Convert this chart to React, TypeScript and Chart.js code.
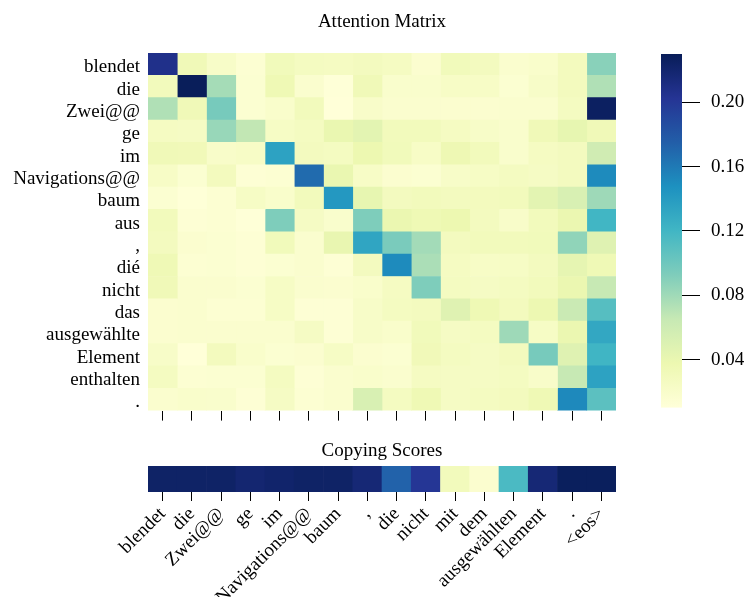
import React, { useEffect, useRef } from "react";
import { Chart, registerables } from "chart.js";

Chart.register(...registerables);

// ---------- data ----------
const rowLabels = [
  "blendet", "die", "Zwei@@", "ge", "im", "Navigations@@", "baum", "aus",
  ",", "dié", "nicht", "das", "ausgewählte", "Element", "enthalten", ".",
];

const colLabels = [
  "blendet", "die", "Zwei@@", "ge", "im", "Navigations@@", "baum", ",",
  "die", "nicht", "mit", "dem", "ausgewählten", "Element", ".", "<eos>",
];

// attention weights: one row per source token, one value per target column
const attention: number[][] = [
  [0.207, 0.033, 0.022, 0.015, 0.031, 0.027, 0.026, 0.028, 0.026, 0.017, 0.031, 0.028, 0.018, 0.020, 0.029, 0.089],
  [0.030, 0.229, 0.078, 0.016, 0.035, 0.018, 0.012, 0.033, 0.019, 0.019, 0.023, 0.023, 0.016, 0.022, 0.029, 0.074],
  [0.074, 0.033, 0.096, 0.016, 0.020, 0.030, 0.011, 0.021, 0.018, 0.018, 0.017, 0.017, 0.018, 0.018, 0.027, 0.226],
  [0.026, 0.025, 0.083, 0.067, 0.024, 0.027, 0.040, 0.045, 0.030, 0.030, 0.026, 0.022, 0.019, 0.033, 0.042, 0.033],
  [0.033, 0.032, 0.021, 0.023, 0.135, 0.028, 0.027, 0.038, 0.031, 0.023, 0.036, 0.030, 0.019, 0.026, 0.028, 0.059],
  [0.023, 0.016, 0.029, 0.014, 0.015, 0.168, 0.040, 0.023, 0.017, 0.016, 0.022, 0.024, 0.027, 0.025, 0.028, 0.151],
  [0.016, 0.012, 0.015, 0.024, 0.020, 0.030, 0.142, 0.042, 0.028, 0.030, 0.028, 0.029, 0.030, 0.045, 0.053, 0.081],
  [0.030, 0.014, 0.015, 0.012, 0.093, 0.025, 0.019, 0.093, 0.039, 0.035, 0.038, 0.028, 0.021, 0.030, 0.039, 0.120],
  [0.028, 0.017, 0.016, 0.014, 0.031, 0.018, 0.041, 0.133, 0.095, 0.079, 0.028, 0.030, 0.030, 0.031, 0.086, 0.048],
  [0.034, 0.015, 0.016, 0.014, 0.016, 0.018, 0.014, 0.028, 0.151, 0.076, 0.026, 0.023, 0.024, 0.028, 0.043, 0.034],
  [0.033, 0.018, 0.018, 0.016, 0.024, 0.018, 0.017, 0.020, 0.026, 0.093, 0.027, 0.025, 0.027, 0.030, 0.039, 0.065],
  [0.017, 0.018, 0.015, 0.015, 0.024, 0.014, 0.014, 0.022, 0.027, 0.028, 0.048, 0.035, 0.029, 0.037, 0.063, 0.111],
  [0.017, 0.018, 0.018, 0.018, 0.018, 0.025, 0.014, 0.022, 0.020, 0.031, 0.025, 0.027, 0.081, 0.024, 0.039, 0.131],
  [0.022, 0.011, 0.029, 0.020, 0.016, 0.017, 0.024, 0.017, 0.016, 0.032, 0.027, 0.025, 0.029, 0.096, 0.048, 0.121],
  [0.027, 0.015, 0.016, 0.016, 0.027, 0.014, 0.018, 0.020, 0.018, 0.026, 0.025, 0.025, 0.027, 0.021, 0.065, 0.135],
  [0.018, 0.020, 0.019, 0.014, 0.025, 0.015, 0.018, 0.053, 0.027, 0.035, 0.025, 0.027, 0.029, 0.035, 0.152, 0.108],
];

const copyingScores = [0.97, 0.97, 0.97, 0.95, 0.96, 0.97, 0.97, 0.94, 0.74, 0.87, 0.09, 0.03, 0.48, 0.94, 0.99, 0.99];

const colorbarTicks = [0.04, 0.08, 0.12, 0.16, 0.2];
const ATT_MIN = 0.0103;
const ATT_MAX = 0.2299;
const COPY_MIN = 0;
const COPY_MAX = 1;

// ---------- style ----------
const FONT = "'Liberation Serif', 'Times New Roman', serif";
const FONT_SIZE = 19;
const TEXT = "#000";

const YLGNBU: number[][] = [
  [255, 255, 217], [237, 248, 177], [199, 233, 180], [127, 205, 187], [65, 182, 196],
  [29, 145, 192], [34, 94, 168], [37, 52, 148], [8, 29, 88],
];

function cmap(v: number, lo: number, hi: number): string {
  let t = (v - lo) / (hi - lo);
  t = Math.max(0, Math.min(1, t));
  const p = t * (YLGNBU.length - 1);
  const i = Math.min(Math.floor(p), YLGNBU.length - 2);
  const f = p - i;
  const a = YLGNBU[i], b = YLGNBU[i + 1];
  const c = a.map((x, k) => Math.round(x + (b[k] - x) * f));
  return `rgb(${c[0]},${c[1]},${c[2]})`;
}

const W_MAIN = 640;
const H_TOP = 430;
const H_BOTTOM = 167;

export default function App() {
  const heatRef = useRef<HTMLCanvasElement>(null);
  const cbarRef = useRef<HTMLCanvasElement>(null);
  const copyRef = useRef<HTMLCanvasElement>(null);

  useEffect(() => {
    document.body.style.margin = "0";
    const font = { family: FONT, size: FONT_SIZE, weight: "normal" as const };

    const heat = new Chart(heatRef.current!, {
      type: "bar",
      data: {
        labels: rowLabels,
        datasets: colLabels.map((_, c) => ({
          data: rowLabels.map(() => [c, c + 1] as [number, number]),
          backgroundColor: attention.map((row) => cmap(row[c], ATT_MIN, ATT_MAX)),
          borderWidth: 0,
          barPercentage: 1,
          categoryPercentage: 1,
          grouped: false,
        })),
      },
      options: {
        indexAxis: "y",
        animation: false,
        responsive: false,
        layout: { padding: { left: 0, right: 24, top: 0, bottom: 0 } },
        plugins: {
          legend: { display: false },
          tooltip: { enabled: false },
          title: {
            display: true,
            text: "Attention Matrix",
            fullSize: false,
            color: TEXT,
            font,
            padding: { top: 10.6, bottom: 19.6 },
          },
        },
        scales: {
          y: {
            type: "category",
            offset: true,
            grid: { display: false, drawTicks: false },
            border: { display: false },
            ticks: { color: TEXT, font, padding: 8, autoSkip: false, labelOffset: 3 },
            afterFit: (s: any) => { s.width = 148; },
          },
          x: {
            type: "linear",
            min: 0,
            max: colLabels.length,
            afterBuildTicks: (s: any) => { s.ticks = colLabels.map((_, i) => ({ value: i + 0.5 })); },
            ticks: { callback: () => "", color: TEXT, font },
            grid: { drawOnChartArea: false, drawTicks: true, tickLength: 10, color: "#000", lineWidth: 1 },
            border: { display: false },
            afterFit: (s: any) => { s.height = 18; },
          },
        },
      },
    } as any);

    const gradientPlugin = {
      id: "colorbarGradient",
      beforeDatasetsDraw(chart: any) {
        const { ctx, chartArea } = chart;
        const y = chart.scales.y;
        const y0 = y.getPixelForValue(ATT_MIN);
        const y1 = y.getPixelForValue(ATT_MAX);
        const g = ctx.createLinearGradient(0, y0, 0, y1);
        YLGNBU.forEach((c, i) => g.addColorStop(i / (YLGNBU.length - 1), `rgb(${c[0]},${c[1]},${c[2]})`));
        ctx.save();
        ctx.fillStyle = g;
        ctx.fillRect(chartArea.left, y1, chartArea.right - chartArea.left, y0 - y1);
        ctx.restore();
      },
    };

    const cbar = new Chart(cbarRef.current!, {
      type: "bar",
      data: { labels: [""], datasets: [{ data: [] }] },
      options: {
        animation: false,
        responsive: false,
        layout: { padding: { left: 21, right: 0, top: 54, bottom: 19 } },
        plugins: { legend: { display: false }, tooltip: { enabled: false } },
        scales: {
          x: { display: false },
          y: {
            position: "right",
            min: ATT_MIN,
            max: ATT_MAX,
            afterBuildTicks: (s: any) => { s.ticks = colorbarTicks.map((v) => ({ value: v })); },
            ticks: { callback: (v: any) => Number(v).toFixed(2), color: TEXT, font, padding: 11 },
            grid: { drawOnChartArea: false, drawTicks: true, tickLength: 18, color: "#000" },
            border: { display: false },
            afterFit: (s: any) => { s.width = 67; },
          },
        },
      },
      plugins: [gradientPlugin],
    } as any);

    const copy = new Chart(copyRef.current!, {
      type: "bar",
      data: {
        labels: colLabels,
        datasets: [{
          data: colLabels.map(() => [COPY_MIN, COPY_MAX] as [number, number]),
          backgroundColor: copyingScores.map((v) => cmap(v, COPY_MIN, COPY_MAX)),
          borderWidth: 0,
          barPercentage: 1,
          categoryPercentage: 1,
        }],
      },
      options: {
        animation: false,
        responsive: false,
        layout: { padding: { left: 148, right: 24, top: 0, bottom: 0 } },
        plugins: {
          legend: { display: false },
          tooltip: { enabled: false },
          title: {
            display: true,
            text: "Copying Scores",
            fullSize: false,
            color: TEXT,
            font,
            padding: { top: 9.6, bottom: 3.6 },
          },
        },
        scales: {
          x: {
            type: "category",
            offset: true,
            grid: { display: true, offset: false, drawOnChartArea: false, drawTicks: true, tickLength: 9, color: "#000" },
            border: { display: false },
            ticks: { color: TEXT, font, autoSkip: false, minRotation: 45, maxRotation: 45, padding: 2 },
            afterFit: (s: any) => { s.height = H_BOTTOM - 62; },
          },
          y: { display: false, min: COPY_MIN, max: COPY_MAX },
        },
      },
    } as any);

    return () => {
      heat.destroy();
      cbar.destroy();
      copy.destroy();
    };
  }, []);

  return (
    <div style={{ position: "relative", width: 749, height: 597, background: "#fff" }}>
      <canvas ref={heatRef} width={W_MAIN} height={H_TOP}
        style={{ position: "absolute", left: 0, top: 0, width: W_MAIN, height: H_TOP }} />
      <canvas ref={cbarRef} width={749 - W_MAIN} height={H_TOP}
        style={{ position: "absolute", left: W_MAIN, top: 0, width: 749 - W_MAIN, height: H_TOP }} />
      <canvas ref={copyRef} width={W_MAIN} height={H_BOTTOM}
        style={{ position: "absolute", left: 0, top: H_TOP, width: W_MAIN, height: H_BOTTOM }} />
    </div>
  );
}
